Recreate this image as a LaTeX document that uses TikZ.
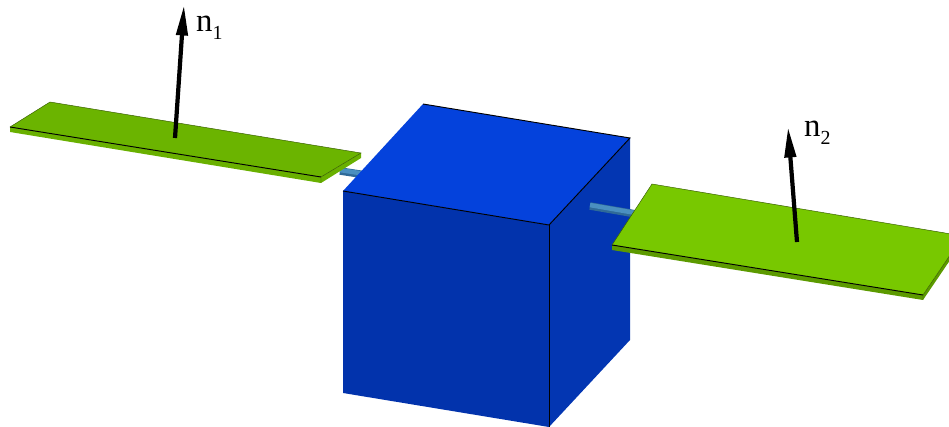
\documentclass[tikz,border=0pt]{standalone}
\usepackage{fontspec}
\setmainfont{Liberation Serif}
\usetikzlibrary{arrows.meta}
\definecolor{cubetop}{HTML}{0442DC}
\definecolor{cubefront}{HTML}{0233AC}
\definecolor{cubeside}{HTML}{0336B2}
\definecolor{panelleft}{HTML}{6BB400}
\definecolor{panelright}{HTML}{78C800}
\definecolor{paneledge}{HTML}{5C9A00}
\definecolor{rodblue}{HTML}{4A8FC0}
\definecolor{roddark}{HTML}{2F6A98}
\newcommand{\normallabel}[1]{n\raisebox{-0.22em}{\fontsize{17}{17}\selectfont #1}}
\begin{document}
\begin{tikzpicture}[x=0.03cm, y=-0.03cm,
        face/.style={line width=0.5pt, line join=round},
        edgeline/.style={draw=black, line width=0.8pt},
        rimline/.style={draw=paneledge!60!black, line width=0.4pt},
        rod/.style={draw=roddark, line width=6.4pt},
        rodlight/.style={draw=rodblue, line width=3.8pt},
        normalvec/.style={draw=black, line width=3.6pt,
                          -{Triangle[length=26pt, width=9.5pt]}},
        veclabel/.style={anchor=base west, inner sep=0pt, font=\fontsize{28}{30}\selectfont}]
      \clip (0,0) rectangle (949,427);
      % cube
      \coordinate (topback)   at (423,104);
      \coordinate (topright)  at (630,138);
      \coordinate (topfront)  at (549,225);
      \coordinate (topleft)   at (343,191);
      \coordinate (lowleft)   at (343,393);
      \coordinate (lowfront)  at (549,427);
      \coordinate (lowright)  at (630,340);
      % left rod goes behind the cube
      \coordinate (rodstartA) at (340,171);
      \coordinate (rodendA)   at (366,175);
      \draw[rod] (rodstartA) -- (rodendA);
      \draw[rodlight] ([yshift=0.8pt]rodstartA) -- ([yshift=0.8pt]rodendA);
      \fill[cubefront, face] (topleft) -- (topfront) -- (lowfront) -- (lowleft) -- cycle;
      \fill[cubeside, face]  (topfront) -- (topright) -- (lowright) -- (lowfront) -- cycle;
      \fill[cubetop, face]   (topback) -- (topright) -- (topfront) -- (topleft) -- cycle;
      \draw[edgeline] (topback) -- (topright) -- (topfront) -- (topleft);
      \draw[edgeline] (topfront) -- (lowfront);
      % left panel
      \coordinate (pAback)  at (50,102);
      \coordinate (pAright) at (361,153);
      \coordinate (pAfront) at (321,177);
      \coordinate (pAleft)  at (10,127);
      \coordinate (pArightlow) at (361,158);
      \coordinate (pAfrontlow) at (321,183);
      \coordinate (pAleftlow)  at (10,132);
      \fill[panelleft!85!paneledge] (pAleft) -- (pAfront) -- (pAright) -- (pArightlow) -- (pAfrontlow) -- (pAleftlow) -- cycle;
      \fill[panelleft] (pAback) -- (pAright) -- (pAfront) -- (pAleft) -- cycle;
      \draw[edgeline] (pAleft) -- (pAfront);
      \draw[rimline] (pAleft) -- (pAback) -- (pAright) -- (pAfront) -- (pAfrontlow);
      % right rod and panel
      \coordinate (rodstartB) at (590,206);
      \coordinate (rodendB)   at (636,214);
      \draw[rod] (rodstartB) -- (rodendB);
      \draw[rodlight] ([yshift=0.8pt]rodstartB) -- ([yshift=0.8pt]rodendB);
      \coordinate (pBback)  at (652,184);
      \coordinate (pBright) at (963,236);
      \coordinate (pBfront) at (923,295);
      \coordinate (pBleft)  at (612,245);
      \coordinate (pBrightlow) at (963,241);
      \coordinate (pBfrontlow) at (923,300);
      \coordinate (pBleftlow)  at (612,250);
      \fill[paneledge] (pBleft) -- (pBfront) -- (pBright) -- (pBrightlow) -- (pBfrontlow) -- (pBleftlow) -- cycle;
      \fill[panelright] (pBback) -- (pBright) -- (pBfront) -- (pBleft) -- cycle;
      \draw[edgeline] (pBleft) -- (pBfront);
      \draw[rimline] (pBleft) -- (pBback) -- (pBright) -- (pBfront) -- (pBfrontlow);
      % normals
      \coordinate (baseA) at (175,138);
      \coordinate (tipA)  at (184,5);
      \coordinate (baseB) at (797,242);
      \coordinate (tipB)  at (788,127);
      \draw[normalvec] (baseA) -- (tipA);
      \draw[normalvec] (baseB) -- (tipB);
      \node[veclabel] (labelA) at (196,32)  {\normallabel{1}};
      \node[veclabel] (labelB) at (804,137) {\normallabel{2}};
    \end{tikzpicture}
\end{document}
